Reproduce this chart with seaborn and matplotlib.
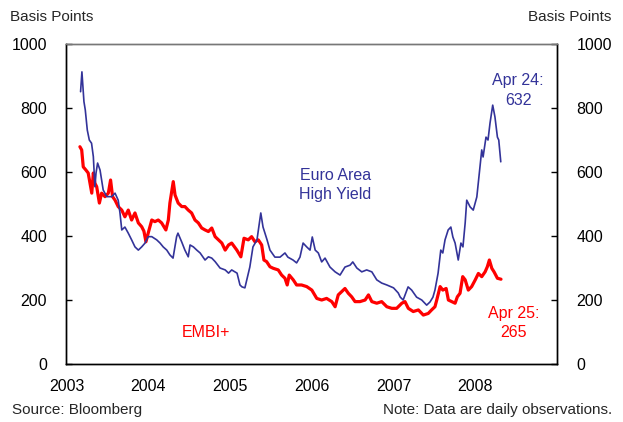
import pandas as pd
import numpy as np
import matplotlib.pyplot as plt
import matplotlib.dates as mdates
import seaborn as sns

# Euro Area High Yield spread, basis points
hy_dates = [
    "2003-03-05", "2003-03-11", "2003-03-20", "2003-03-26", "2003-04-04", "2003-04-13",
    "2003-04-23", "2003-05-01", "2003-05-05", "2003-05-08", "2003-05-13", "2003-05-20",
    "2003-05-31", "2003-06-07", "2003-06-14", "2003-06-30", "2003-07-22", "2003-08-06",
    "2003-08-20", "2003-08-28", "2003-09-05", "2003-09-19", "2003-10-04", "2003-10-19",
    "2003-11-03", "2003-11-18", "2003-12-03", "2003-12-18",
    "2004-01-01", "2004-01-17", "2004-02-08", "2004-02-23", "2004-03-08", "2004-03-24",
    "2004-04-07", "2004-04-21", "2004-05-07", "2004-05-13", "2004-05-30", "2004-06-13",
    "2004-06-28", "2004-07-06", "2004-07-21", "2004-08-05", "2004-08-20", "2004-09-11",
    "2004-09-26", "2004-10-11", "2004-10-26", "2004-11-17", "2004-12-10", "2004-12-25",
    "2005-01-08", "2005-01-22", "2005-02-01", "2005-02-14", "2005-02-23", "2005-03-08",
    "2005-03-30", "2005-04-13", "2005-05-01", "2005-05-18", "2005-05-28", "2005-06-15",
    "2005-06-28", "2005-07-20", "2005-08-12", "2005-09-03", "2005-09-16", "2005-10-09",
    "2005-10-25", "2005-11-09", "2005-11-23", "2005-12-09", "2005-12-24",
    "2006-01-03", "2006-01-16", "2006-01-30", "2006-02-14", "2006-03-01", "2006-03-23",
    "2006-04-15", "2006-05-07", "2006-05-29", "2006-06-21", "2006-07-03", "2006-07-21",
    "2006-08-12", "2006-09-03", "2006-09-26", "2006-10-18", "2006-11-09", "2006-12-02",
    "2007-01-01", "2007-01-22", "2007-01-31", "2007-02-13", "2007-03-07", "2007-03-23",
    "2007-04-14", "2007-05-07", "2007-05-29", "2007-06-13", "2007-06-26", "2007-07-05",
    "2007-07-19", "2007-07-31", "2007-08-09", "2007-08-19", "2007-09-02", "2007-09-14",
    "2007-09-23", "2007-10-03", "2007-10-17", "2007-10-29", "2007-11-07", "2007-11-17",
    "2007-11-24", "2007-12-09", "2007-12-23",
    "2008-01-08", "2008-01-19", "2008-01-30", "2008-02-05", "2008-02-18", "2008-02-27",
    "2008-03-07", "2008-03-19", "2008-03-29", "2008-04-09", "2008-04-15", "2008-04-24",
]
hy_values = [
    851, 913, 820, 794, 731, 700,
    690, 648, 597, 554, 597, 628,
    606, 575, 544, 523, 523, 534,
    512, 472, 419, 428, 409, 388,
    366, 356, 366, 378,
    398, 398, 388, 378, 366, 356,
    341, 331, 398, 409, 381, 356,
    335, 372, 366, 356, 347, 325,
    335, 331, 320, 300, 294, 284,
    294, 288, 284, 247, 241, 238,
    303, 366, 388, 472, 428, 388,
    356, 334, 334, 347, 334, 325,
    316, 334, 378, 366, 356,
    397, 356, 347, 319, 331, 303,
    288, 278, 303, 309, 319, 300,
    288, 294, 288, 263, 253, 247,
    238, 222, 209, 200, 241, 231,
    209, 200, 184, 194, 209, 231,
    284, 356, 347, 388, 419, 428,
    397, 378, 325, 378, 366, 441,
    512, 491, 481,
    522, 597, 669, 647, 709, 700,
    753, 809, 772, 709, 700, 632,
]

# EMBI+ spread, basis points
embi_dates = [
    "2003-03-02", "2003-03-10", "2003-03-17", "2003-03-29", "2003-04-08", "2003-04-24",
    "2003-05-01", "2003-05-08", "2003-05-16", "2003-05-28", "2003-06-07", "2003-06-22",
    "2003-07-07", "2003-07-17", "2003-07-26", "2003-08-06", "2003-08-20", "2003-09-05",
    "2003-09-19", "2003-10-04", "2003-10-19", "2003-11-03", "2003-11-18", "2003-12-03",
    "2003-12-13", "2003-12-22",
    "2004-01-01", "2004-01-17", "2004-01-31", "2004-02-15", "2004-03-01", "2004-03-20",
    "2004-03-31", "2004-04-07", "2004-04-22", "2004-04-30", "2004-05-14", "2004-05-30",
    "2004-06-13", "2004-06-28", "2004-07-13", "2004-07-28", "2004-08-12", "2004-08-27",
    "2004-09-11", "2004-09-26", "2004-10-11", "2004-10-26", "2004-11-10", "2004-11-25",
    "2004-12-10", "2004-12-25",
    "2005-01-08", "2005-01-31", "2005-02-18", "2005-03-04", "2005-03-23", "2005-04-07",
    "2005-04-22", "2005-05-07", "2005-05-22", "2005-06-01", "2005-06-13", "2005-06-28",
    "2005-07-13", "2005-08-04", "2005-08-19", "2005-09-03", "2005-09-13", "2005-09-22",
    "2005-10-10", "2005-10-25", "2005-11-16", "2005-12-09",
    "2006-01-01", "2006-01-23", "2006-02-14", "2006-03-08", "2006-03-31", "2006-04-15",
    "2006-04-29", "2006-05-14", "2006-05-29", "2006-06-13", "2006-06-28", "2006-07-13",
    "2006-08-04", "2006-08-27", "2006-09-11", "2006-09-26", "2006-10-18", "2006-11-09",
    "2006-12-02", "2006-12-24",
    "2007-01-15", "2007-02-07", "2007-02-21", "2007-03-08", "2007-03-30", "2007-04-22",
    "2007-05-14", "2007-06-05", "2007-06-20", "2007-07-05", "2007-07-13", "2007-07-28",
    "2007-08-09", "2007-08-24", "2007-09-03", "2007-09-18", "2007-10-03", "2007-10-13",
    "2007-10-25", "2007-11-06", "2007-11-17", "2007-12-01", "2007-12-16",
    "2008-01-01", "2008-01-15", "2008-01-30", "2008-02-14", "2008-02-24", "2008-03-04",
    "2008-03-15", "2008-03-25", "2008-04-09", "2008-04-25",
]
embi_values = [
    679, 669, 616, 606, 597, 534,
    597, 565, 554, 503, 534, 523,
    534, 575, 523, 512, 492, 481,
    460, 481, 450, 472, 441, 429,
    415, 382,
    409, 450, 445, 450, 441, 419,
    450, 503, 570, 528, 503, 492,
    492, 481, 472, 450, 441, 425,
    419, 414, 425, 398, 388, 378,
    356, 372,
    378, 356, 335, 393, 388, 398,
    382, 388, 372, 325, 320, 304,
    299, 294, 278, 268, 247, 278,
    263, 247, 247, 242,
    231, 205, 200, 205, 195, 179,
    216, 226, 236, 221, 210, 195,
    195, 200, 216, 195, 190, 195,
    179, 174,
    174, 190, 195, 174, 164, 169,
    153, 158, 169, 179, 200, 242,
    231, 236, 200, 195, 190, 210,
    221, 273, 263, 231, 242,
    263, 283, 273, 288, 304, 325,
    299, 288, 268, 265,
]

y_ticks = [0, 200, 400, 600, 800, 1000]
year_ticks = ["2003", "2004", "2005", "2006", "2007", "2008"]

navy = "#333399"
red = "#ff0000"

hy = pd.DataFrame({"date": pd.to_datetime(hy_dates), "bp": hy_values})
embi = pd.DataFrame({"date": pd.to_datetime(embi_dates), "bp": embi_values})

sns.set_style("white")
plt.rcParams["font.family"] = ["Liberation Sans", "DejaVu Sans"]

fig = plt.figure(figsize=(6.23, 4.22), dpi=100)
ax = fig.add_axes([0.1067, 0.1374, 0.7873, 0.7583])

sns.lineplot(data=embi, x="date", y="bp", ax=ax, color=red, linewidth=2.3)
sns.lineplot(data=hy, x="date", y="bp", ax=ax, color=navy, linewidth=1.2)

ax.set_xlim(pd.Timestamp("2003-01-01"), pd.Timestamp("2008-12-31"))
ax.set_ylim(0, 1000)
ax.set_xlabel("")
ax.set_ylabel("")
ax.set_yticks(y_ticks)
ax.set_xticks(pd.to_datetime([y + "-01-01" for y in year_ticks]))
ax.set_xticklabels(year_ticks)

ax2 = ax.twinx()
ax2.set_ylim(0, 1000)
ax2.set_yticks(y_ticks)

for a in (ax, ax2):
    for s in a.spines.values():
        s.set_color("black")
        s.set_linewidth(1.0)
    a.spines["top"].set_color("#777777")
    a.tick_params(direction="in", length=4, width=1, labelsize=11.5, colors="black")
ax.tick_params(axis="x", pad=11)
ax.tick_params(axis="y", pad=14)
ax2.tick_params(axis="y", pad=14)

fig.text(0.016, 0.960, "Basis Points", fontsize=11, va="center", ha="left")
fig.text(0.982, 0.960, "Basis Points", fontsize=11, va="center", ha="right")
fig.text(0.019, 0.028, "Source: Bloomberg", fontsize=11, va="center", ha="left")
fig.text(0.982, 0.028, "Note: Data are daily observations.", fontsize=11, va="center", ha="right")

ax.text(pd.Timestamp("2006-04-15"), 560, "Euro Area\nHigh Yield", color=navy,
        fontsize=11.5, ha="center", va="center", linespacing=1.35)
ax.text(pd.Timestamp("2004-09-15"), 100, "EMBI+", color=red,
        fontsize=11.5, ha="center", va="center")
ax.text(pd.Timestamp("2008-07-10"), 855, "Apr 24:\n632", color=navy,
        fontsize=11.5, ha="center", va="center", linespacing=1.35)
ax.text(pd.Timestamp("2008-06-20"), 128, "Apr 25:\n265", color=red,
        fontsize=11.5, ha="center", va="center", linespacing=1.35)

fig.savefig("out.png", dpi=100)
